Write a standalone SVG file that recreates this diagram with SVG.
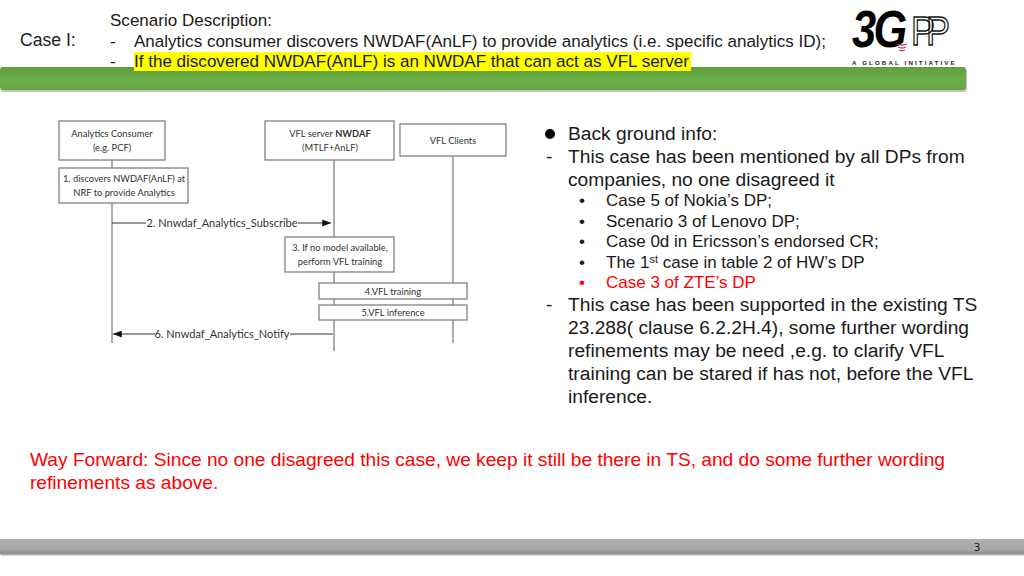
<svg xmlns="http://www.w3.org/2000/svg" width="1024" height="576" viewBox="0 0 1024 576">
<style>
.s{font-family:"Liberation Sans",Arial,sans-serif;fill:#1a1a1a}
.b{font-size:19.2px}
.c{font-size:17.05px}
.r{fill:#ff0000}
.d{font-family:Lato,"Open Sans",sans-serif;font-size:9.3px;fill:#333;text-anchor:middle}
.box{fill:#fff;stroke:#777;stroke-width:1.2}
.ll{stroke:#777;stroke-width:1.2;fill:none}
.msg{stroke:#333;stroke-width:1;fill:none}
</style>
<defs>
<linearGradient id="g" x1="0" y1="0" x2="0" y2="1"><stop offset="0" stop-color="#5f9f3c"/><stop offset=".5" stop-color="#6cae48"/><stop offset="1" stop-color="#68a845"/></linearGradient>
<linearGradient id="f" x1="0" y1="0" x2="0" y2="1"><stop offset="0" stop-color="#b0b0b0"/><stop offset=".7" stop-color="#a6a6a6"/><stop offset="1" stop-color="#888"/></linearGradient>
<marker id="a" viewBox="0 0 10 8" refX="10" refY="4" markerWidth="9" markerHeight="7" markerUnits="userSpaceOnUse" orient="auto-start-reverse"><path d="M0 0L10 4L0 8z" fill="#111"/></marker>
</defs>
<rect width="1024" height="576" fill="#fff"/>
<g id="header">
<rect x="1" y="69" width="966" height="23" rx="3" fill="#999" opacity=".6"/>
<rect x="0" y="67" width="966" height="23" rx="3" fill="url(#g)"/>
<rect x="134" y="52" width="557" height="19" fill="#ffff00"/>
<text class="s c" x="20" y="46" style="font-size:17.6px">Case I:</text>
<text class="s c" x="110" y="26">Scenario Description:</text>
<text class="s c" x="110" y="47">-</text>
<text class="s c" x="134" y="47">Analytics consumer discovers NWDAF(AnLF) to provide analytics (i.e. specific analytics ID);</text>
<text class="s c" x="110" y="67">-</text>
<text class="s c" x="134" y="67">If the discovered NWDAF(AnLF) is an NWDAF that can act as VFL server</text>
</g>
<g id="logo">
<text transform="translate(852 47) scale(.85 1)" style="font-family:'Liberation Sans',sans-serif;font-weight:bold;font-style:italic;font-size:51px;letter-spacing:-3px" fill="#000">3G</text>
<text transform="translate(911 45) scale(1 1.15)" style="font-family:'Liberation Sans',sans-serif;font-size:36px;letter-spacing:-9px" fill="none" stroke="#111" stroke-width="1.2">PP</text>
<path d="M897 44q5 2 10 0M898 47q4 2 8 0M899 50q3 1.500 6 0" stroke="#c8385e" stroke-width="1.300" fill="none"/>
<text x="852" y="65" style="font-family:'Liberation Sans',sans-serif;font-weight:bold;font-size:6.200px;letter-spacing:2.100px" fill="#222">A GLOBAL INITIATIVE</text>
</g>
<g id="connectors">
<path class="ll" d="M112 160V343M334 160V351M453 156V343"/>
<path class="msg" d="M112 223H146M298 223H331" marker-end="url(#a)"/>
<path class="msg" d="M333 334H290M155 334H113" marker-end="url(#a)"/>
</g>
<g id="consumer"><rect class="box" x="59" y="121" width="106" height="39"/><text class="d" x="112" y="137">Analytics Consumer</text><text class="d" x="112" y="151">(e.g. PCF)</text></g>
<g id="server"><rect class="box" x="265" y="121" width="129" height="39"/><text class="d" x="330" y="137">VFL server <tspan font-weight="bold">NWDAF</tspan></text><text class="d" x="330" y="151">(MTLF+AnLF)</text></g>
<g id="clients"><rect class="box" x="400" y="124" width="106" height="32"/><text class="d" x="453" y="143.500">VFL Clients</text></g>
<g id="step1"><rect class="box" x="59" y="168" width="129" height="35"/><text class="d" x="124" y="182">1. discovers NWDAF(AnLF) at</text><text class="d" x="124" y="196">NRF to provide Analytics</text></g>
<g id="step2"><text class="d" x="222" y="227" style="font-size:11px">2. Nnwdaf_Analytics_Subscribe</text></g>
<g id="step3"><rect class="box" x="285" y="237" width="109" height="35"/><text class="d" x="340" y="251">3. If no model available,</text><text class="d" x="340" y="265">perform VFL training</text></g>
<g id="step4"><rect class="box" x="319" y="283" width="148" height="16"/><text class="d" x="393" y="295">4.VFL training</text></g>
<g id="step5"><rect class="box" x="319" y="305" width="148" height="15"/><text class="d" x="393" y="316">5.VFL inference</text></g>
<g id="step6"><text class="d" x="222" y="338" style="font-size:11px">6. Nnwdaf_Analytics_Notify</text></g>
<g id="info">
<circle cx="550" cy="134" r="5" fill="#000"/>
<text class="s b" x="568" y="140">Back ground info:</text>
<text class="s b" x="546" y="163">-</text>
<text class="s b" x="568" y="163">This case has been mentioned by all DPs from</text>
<text class="s b" x="568" y="186">companies, no one disagreed it</text>
<g class="s" style="font-size:17px">
<text x="579" y="206">•</text><text x="606" y="206">Case 5 of Nokia’s DP;</text>
<text x="579" y="227">•</text><text x="606" y="227">Scenario 3 of Lenovo DP;</text>
<text x="579" y="247">•</text><text x="606" y="247">Case 0d in Ericsson’s endorsed CR;</text>
<text x="579" y="268">•</text><text x="606" y="268">The 1<tspan dy="-5" font-size="11">st</tspan><tspan dy="5"> case in table 2 of HW’s DP</tspan></text>
<text class="r" x="579" y="288">•</text><text class="r" x="606" y="288">Case 3 of ZTE’s DP</text>
</g>
<text class="s b" x="546" y="311">-</text>
<text class="s b" x="568" y="311">This case has been supported in the existing TS</text>
<text class="s b" x="568" y="334">23.288( clause 6.2.2H.4), some further wording</text>
<text class="s b" x="568" y="357">refinements may be need ,e.g. to clarify VFL</text>
<text class="s b" x="568" y="380">training can be stared if has not, before the VFL</text>
<text class="s b" x="568" y="403">inference.</text>
</g>
<g id="wayforward">
<text class="s r" x="30" y="466" style="font-size:19.150px;fill:#ff0000">Way Forward: Since no one disagreed this case, we keep it still be there in TS, and do some further wording</text>
<text class="s r" x="30" y="489" style="font-size:19.150px;fill:#ff0000">refinements as above.</text>
</g>
<g id="footer">
<rect x="1" y="541" width="1023" height="15" fill="#bbb" opacity=".6"/>
<rect x="0" y="539" width="1024" height="15.500" fill="url(#f)"/>
<text x="977" y="551" style="font-family:'Open Sans',sans-serif;font-size:11.500px;text-anchor:middle" fill="#111">3</text>
</g>
</svg>
